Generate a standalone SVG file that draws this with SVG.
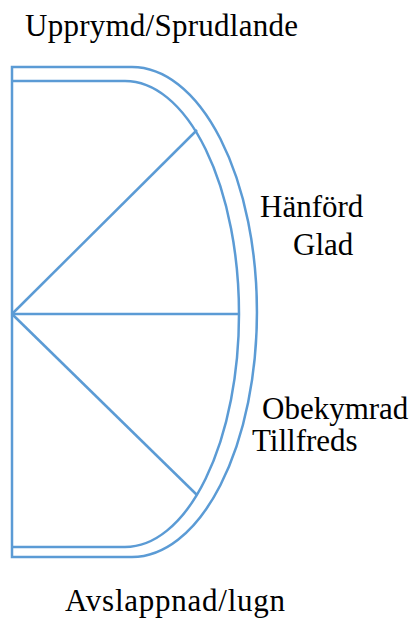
<svg xmlns="http://www.w3.org/2000/svg" width="412" height="618" viewBox="0 0 412 618">
<style>
.s{fill:none;stroke:#5B9BD5;stroke-width:2.5}
text{font-family:"Times New Roman",Times,"Liberation Serif","DejaVu Serif",serif;font-size:31px;fill:#000}
</style>
<rect width="412" height="618" fill="#fff"/>
<g id="shape">
<path id="outer" class="s" d="M12,67 H132 A125,245 0 0 1 132,557 H12 Z"/>
<path id="inner" class="s" d="M12,81 H125 A114,233 0 0 1 125,547 H12"/>
</g>
<g id="connectors">
<line class="s" x1="12" y1="314" x2="197" y2="130"/>
<line class="s" x1="12" y1="314" x2="239" y2="314"/>
<line class="s" x1="12" y1="314" x2="197" y2="495"/>
</g>
<g id="labels">
<text x="25" y="36" textLength="273">Upprymd/Sprudlande</text>
<text x="260" y="217">Hänförd</text>
<text x="293" y="255">Glad</text>
<text x="262" y="419">Obekymrad</text>
<text x="252" y="451">Tillfreds</text>
<text x="65" y="611" textLength="220">Avslappnad/lugn</text>
</g>
</svg>
